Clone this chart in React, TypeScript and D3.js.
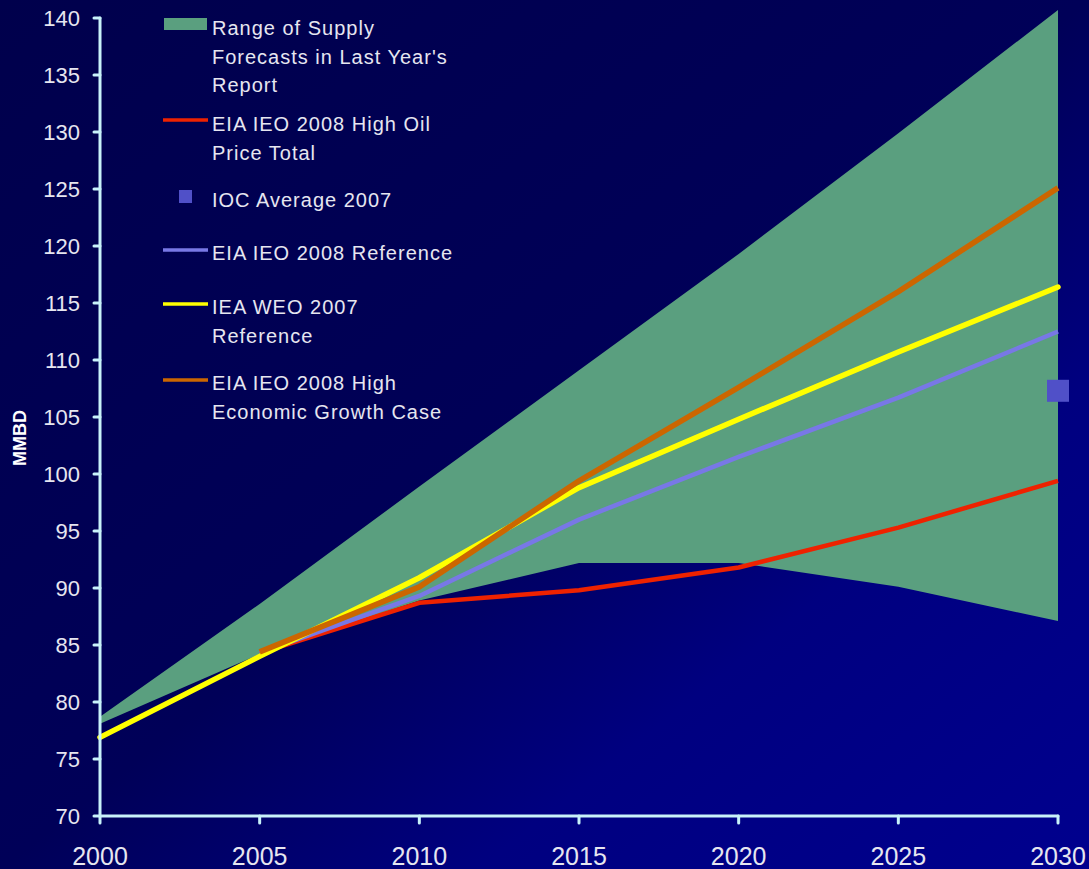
import React from "react";
import * as d3 from "d3";

const years = [2000, 2005, 2010, 2015, 2020, 2025, 2030];
const rangeUpper = [78.7, 88.6, 98.9, 109.1, 119.3, 129.9, 140.7];
const rangeLower = [78.1, 84.2, 88.9, 92.2, 92.2, 90.1, 87.1];
const yearsFrom2005 = [2005, 2010, 2015, 2020, 2025, 2030];
const highOilPrice = [84.3, 88.7, 89.8, 91.8, 95.3, 99.4];
const eiaReference = [84.3, 89.3, 96.0, 101.5, 106.7, 112.5];
const ieaWeo2007 = [76.9, 84.0, 90.9, 98.8, 104.8, 110.7, 116.4];
const highGrowth = [84.4, 90.1, 99.4, 107.6, 116.0, 125.1];
const iocYear = 2030;
const iocValue = 107.3;

const yTicks = [70, 75, 80, 85, 90, 95, 100, 105, 110, 115, 120, 125, 130, 135, 140];
const xTicks = [2000, 2005, 2010, 2015, 2020, 2025, 2030];

const W = 1089;
const H = 869;

const x = d3.scaleLinear().domain([2000, 2030]).range([100, 1058]);
const y = d3.scaleLinear().domain([70, 140]).range([816, 18]);

const FONT = "'Liberation Sans', Arial, sans-serif";
const TEXT = "#e6e6f0";
const AXIS = "#c8f2fa";

export default function App() {
  const area = d3
    .area<number>()
    .x((_, i) => x(years[i]))
    .y0((_, i) => y(rangeLower[i]))
    .y1((_, i) => y(rangeUpper[i]));
  const line = d3
    .line<[number, number]>()
    .x((d) => x(d[0]))
    .y((d) => y(d[1]));
  const pair = (xs: number[], vs: number[]) => xs.map((v, i) => [v, vs[i]] as [number, number]);

  const legendText = (lines: string[], y0: number) =>
    lines.map((t, i) => (
      <text key={t} x={212} y={y0 + i * 28.5} dy="0.35em" fill={TEXT} fontSize={20} letterSpacing={1.0} fontFamily={FONT}>
        {t}
      </text>
    ));

  return (
    <svg width={W} height={H} style={{ position: "absolute", left: 0, top: 0 }}>
      <defs>
        <linearGradient id="bg" x1="0" y1="0" x2="1" y2="1">
          <stop offset="0" stopColor="#00004c" />
          <stop offset="0.5" stopColor="#000058" />
          <stop offset="0.72" stopColor="#000080" />
          <stop offset="1" stopColor="#00008e" />
        </linearGradient>
      </defs>
      <rect x={0} y={0} width={W} height={H} fill="url(#bg)" />

      <path d={area(years) || ""} fill="#5a9f7f" />

      <path d={line(pair(yearsFrom2005, highOilPrice)) || ""} fill="none" stroke="#ee2200" strokeWidth={4.5} strokeLinejoin="round" />
      <path d={line(pair(yearsFrom2005, eiaReference)) || ""} fill="none" stroke="#7878e6" strokeWidth={4.5} strokeLinejoin="round" />
      <path d={line(pair(years, ieaWeo2007)) || ""} fill="none" stroke="#ffff00" strokeWidth={5.5} strokeLinejoin="round" strokeLinecap="round" />
      <path d={line(pair(yearsFrom2005, highGrowth)) || ""} fill="none" stroke="#cc6600" strokeWidth={5.5} strokeLinejoin="round" />

      <rect x={x(iocYear) - 11} y={y(iocValue) - 11} width={22} height={22} fill="#5050c8" />

      {/* axes */}
      <g stroke={AXIS} strokeWidth={3} fill="none" strokeLinecap="round">
        <line x1={x(2000)} x2={x(2000)} y1={y(140)} y2={y(70)} />
        <line x1={x(2000)} x2={x(2030)} y1={y(70)} y2={y(70)} />
        {yTicks.map((t) => (
          <line key={t} x1={x(2000) - 6} x2={x(2000)} y1={y(t)} y2={y(t)} />
        ))}
        {xTicks.map((t) => (
          <line key={t} x1={x(t)} x2={x(t)} y1={y(70)} y2={y(70) + 7} />
        ))}
      </g>
      {yTicks.map((t) => (
        <text key={t} x={80} y={y(t)} dy="0.36em" textAnchor="end" fill={TEXT} fontSize={22} fontFamily={FONT}>
          {t}
        </text>
      ))}
      {xTicks.map((t) => (
        <text key={t} x={x(t)} y={865} textAnchor="middle" fill={TEXT} fontSize={25} fontFamily={FONT}>
          {t}
        </text>
      ))}
      <text transform="translate(26,438) rotate(-90)" textAnchor="middle" fill="#ffffff" fontSize={18} fontWeight="bold" fontFamily={FONT}>
        MMBD
      </text>

      {/* legend */}
      <rect x={164} y={18} width={43} height={12} fill="#5a9f7f" />
      {legendText(["Range of Supply", "Forecasts in Last Year's", "Report"], 28)}
      <line x1={163} x2={208} y1={120} y2={120} stroke="#ee2200" strokeWidth={3.5} />
      {legendText(["EIA IEO 2008 High Oil", "Price Total"], 124)}
      <rect x={179} y={190} width={13} height={13} fill="#5050c8" />
      {legendText(["IOC Average 2007"], 200)}
      <line x1={163} x2={208} y1={250} y2={250} stroke="#7878e6" strokeWidth={3.5} />
      {legendText(["EIA IEO 2008 Reference"], 253)}
      <line x1={163} x2={208} y1={304} y2={304} stroke="#ffff00" strokeWidth={3.5} />
      {legendText(["IEA WEO 2007", "Reference"], 307)}
      <line x1={163} x2={208} y1={380} y2={380} stroke="#cc6600" strokeWidth={3.5} />
      {legendText(["EIA IEO 2008 High", "Economic Growth Case"], 383)}
    </svg>
  );
}
